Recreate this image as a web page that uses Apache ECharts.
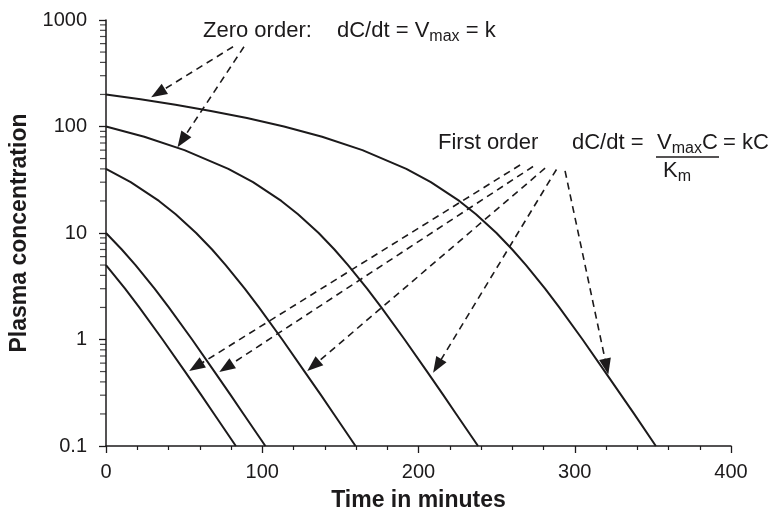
<!DOCTYPE html>
<html>
<head>
<meta charset="utf-8">
<script src="https://cdn.jsdelivr.net/npm/echarts@6/dist/echarts.min.js"></script>
<style>
  html, body { margin: 0; padding: 0; background: #ffffff; }
  #chart { width: 778px; height: 517px; }
</style>
</head>
<body>
<div id="chart"></div>
<script>
// Plasma concentration vs time for five starting doses (Michaelis-Menten elimination)
const timeDose200 = [0, 22.1, 44.5, 67.1, 90.2, 113.9, 138.3, 164.1, 192.2, 207.9, 226.1, 236.8, 249.9, 260.0, 268.8, 281.0, 290.1, 305.0, 319.3, 329.7, 338.0, 351.9];
const concDose200 = [200, 180, 160, 140, 120, 100, 80, 60, 40, 30, 20, 15, 10, 7, 5, 3, 2, 1, 0.5, 0.3, 0.2, 0.1];

const timeDose100 = [0, 24.5, 50.2, 78.3, 94.1, 112.2, 122.9, 136.1, 146.2, 154.9, 167.1, 176.2, 191.1, 205.5, 215.9, 224.1, 238.1];
const concDose100 = [100, 80, 60, 40, 30, 20, 15, 10, 7, 5, 3, 2, 1, 0.5, 0.3, 0.2, 0.1];

const timeDose40 = [0, 15.8, 33.9, 44.6, 57.7, 67.9, 76.6, 88.8, 97.9, 112.8, 127.1, 137.6, 145.8, 159.7];
const concDose40 = [40, 30, 20, 15, 10, 7, 5, 3, 2, 1, 0.5, 0.3, 0.2, 0.1];

const timeDose10 = [0, 10.1, 18.9, 31.1, 40.2, 55.1, 69.4, 79.8, 88.0, 102.0];
const concDose10 = [10, 7, 5, 3, 2, 1, 0.5, 0.3, 0.2, 0.1];

const timeDose5 = [0, 12.2, 21.3, 36.2, 50.6, 61.0, 69.2, 83.1];
const concDose5 = [5, 3, 2, 1, 0.5, 0.3, 0.2, 0.1];

// axis ticks
const xTickLabels = [0, 100, 200, 300, 400];
const yTickLabels = [0.1, 1, 10, 100, 1000];

// annotation arrows: [start time, start conc] -> [tip time, tip conc]
const zeroOrderArrows = [
  [[81.3, 561], [33.3, 206]],
  [[88.3, 561], [48.6, 73.8]]
];
const firstOrderArrows = [
  [[265.0, 43.5], [57.6, 0.556]],
  [[273.3, 42.1], [76.8, 0.545]],
  [[281.0, 40.6], [132.7, 0.565]],
  [[288.3, 39.5], [212.0, 0.565]],
  [[293.8, 38.3], [320.4, 0.556]]
];

const FONT = '"Liberation Sans", Arial, Helvetica, sans-serif';
const INK = '#1c1a1b';

function pairs(ts, cs) { return ts.map((t, i) => [t, cs[i]]); }

// log-decade minor tick positions (2..9 within each decade)
const yMinorTicks = [];
for (let d = 0; d < yTickLabels.length - 1; d++) {
  for (let m = 2; m <= 9; m++) {
    yMinorTicks.push([0, Number((m * yTickLabels[d]).toPrecision(3))]);
  }
}

const curves = [
  pairs(timeDose200, concDose200),
  pairs(timeDose100, concDose100),
  pairs(timeDose40, concDose40),
  pairs(timeDose10, concDose10),
  pairs(timeDose5, concDose5)
];

const arrowLines = zeroOrderArrows.concat(firstOrderArrows).map(a => [
  { coord: a[0] }, { coord: a[1] }
]);

const chart = echarts.init(document.getElementById('chart'), null, { renderer: 'canvas' });

const subStyle = { fontFamily: FONT, fontSize: 16, fill: INK, padding: [12, 0, 0, 0] };

const option = {
  animation: false,
  backgroundColor: '#ffffff',
  grid: { left: 106, right: 47, top: 20, bottom: 66, containLabel: false },
  xAxis: {
    type: 'value',
    min: 0, max: 400, interval: 100,
    name: 'Time in minutes',
    nameLocation: 'middle',
    nameGap: 43,
    nameTextStyle: { fontFamily: FONT, fontSize: 23, fontWeight: 'bold', color: INK },
    axisLine: { show: true, onZero: false, lineStyle: { color: INK, width: 1.5 } },
    axisTick: { show: true, length: 7, lineStyle: { color: INK, width: 1.3 } },
    minorTick: { show: true, splitNumber: 5, length: 4, lineStyle: { color: INK, width: 1.2 } },
    splitLine: { show: false },
    axisLabel: {
      fontFamily: FONT, fontSize: 20, color: INK, margin: 16,
      formatter: v => (xTickLabels.indexOf(v) >= 0 ? String(v) : '')
    }
  },
  yAxis: {
    type: 'log',
    logBase: 10,
    min: yTickLabels[0], max: yTickLabels[yTickLabels.length - 1],
    name: 'Plasma concentration',
    nameLocation: 'middle',
    nameGap: 74,
    nameRotate: 90,
    nameTextStyle: { fontFamily: FONT, fontSize: 23, fontWeight: 'bold', color: INK },
    axisLine: { show: true, onZero: false, lineStyle: { color: INK, width: 1.5 } },
    axisTick: { show: true, length: 7, lineStyle: { color: INK, width: 1.3 } },
    splitLine: { show: false },
    axisLabel: {
      fontFamily: FONT, fontSize: 20, color: INK, margin: 19,
      formatter: v => String(v)
    }
  },
  series: curves.map((data, i) => ({
    type: 'line',
    name: 'dose' + i,
    data: data,
    showSymbol: false,
    smooth: false,
    silent: true,
    lineStyle: { color: INK, width: 2, join: 'round' },
    z: 3
  })).concat([
    {
      // minor ticks on the log axis
      type: 'scatter',
      data: yMinorTicks,
      symbol: 'rect',
      symbolSize: [6, 1.2],
      symbolOffset: [-3, 0],
      clip: false,
      silent: true,
      itemStyle: { color: INK },
      z: 4
    },
    {
      // dashed annotation arrows
      type: 'line',
      data: [],
      silent: true,
      markLine: {
        silent: true,
        animation: false,
        symbol: ['none', 'triangle'],
        symbolSize: [12, 16],
        label: { show: false },
        lineStyle: { color: INK, width: 1.6, type: [7, 5] },
        emphasis: { disabled: true },
        data: arrowLines
      },
      z: 5
    }
  ]),
  graphic: [
    {
      type: 'text', x: 203, y: 31,
      style: { text: 'Zero order:', fontFamily: FONT, fontSize: 22, fill: INK, verticalAlign: 'middle' }
    },
    {
      type: 'text', x: 337, y: 31,
      style: {
        text: 'dC/dt = V{sub|max} = k',
        fontFamily: FONT, fontSize: 22, fill: INK, verticalAlign: 'middle',
        rich: { sub: subStyle }
      }
    },
    {
      type: 'text', x: 438, y: 142.5,
      style: { text: 'First order', fontFamily: FONT, fontSize: 22, fill: INK, verticalAlign: 'middle' }
    },
    {
      type: 'text', x: 572, y: 142.5,
      style: { text: 'dC/dt =', fontFamily: FONT, fontSize: 22, fill: INK, verticalAlign: 'middle' }
    },
    {
      type: 'text', x: 657, y: 142.5,
      style: {
        text: 'V{sub|max}C',
        fontFamily: FONT, fontSize: 22, fill: INK, verticalAlign: 'middle',
        rich: { sub: subStyle }
      }
    },
    {
      type: 'line',
      shape: { x1: 656, y1: 157, x2: 719, y2: 157 },
      style: { stroke: INK, lineWidth: 1.4 }
    },
    {
      type: 'text', x: 723, y: 142.5,
      style: { text: '= kC', fontFamily: FONT, fontSize: 22, fill: INK, verticalAlign: 'middle' }
    },
    {
      type: 'text', x: 663, y: 171,
      style: {
        text: 'K{sub|m}',
        fontFamily: FONT, fontSize: 22, fill: INK, verticalAlign: 'middle',
        rich: { sub: subStyle }
      }
    }
  ]
};

chart.setOption(option);
</script>
</body>
</html>
